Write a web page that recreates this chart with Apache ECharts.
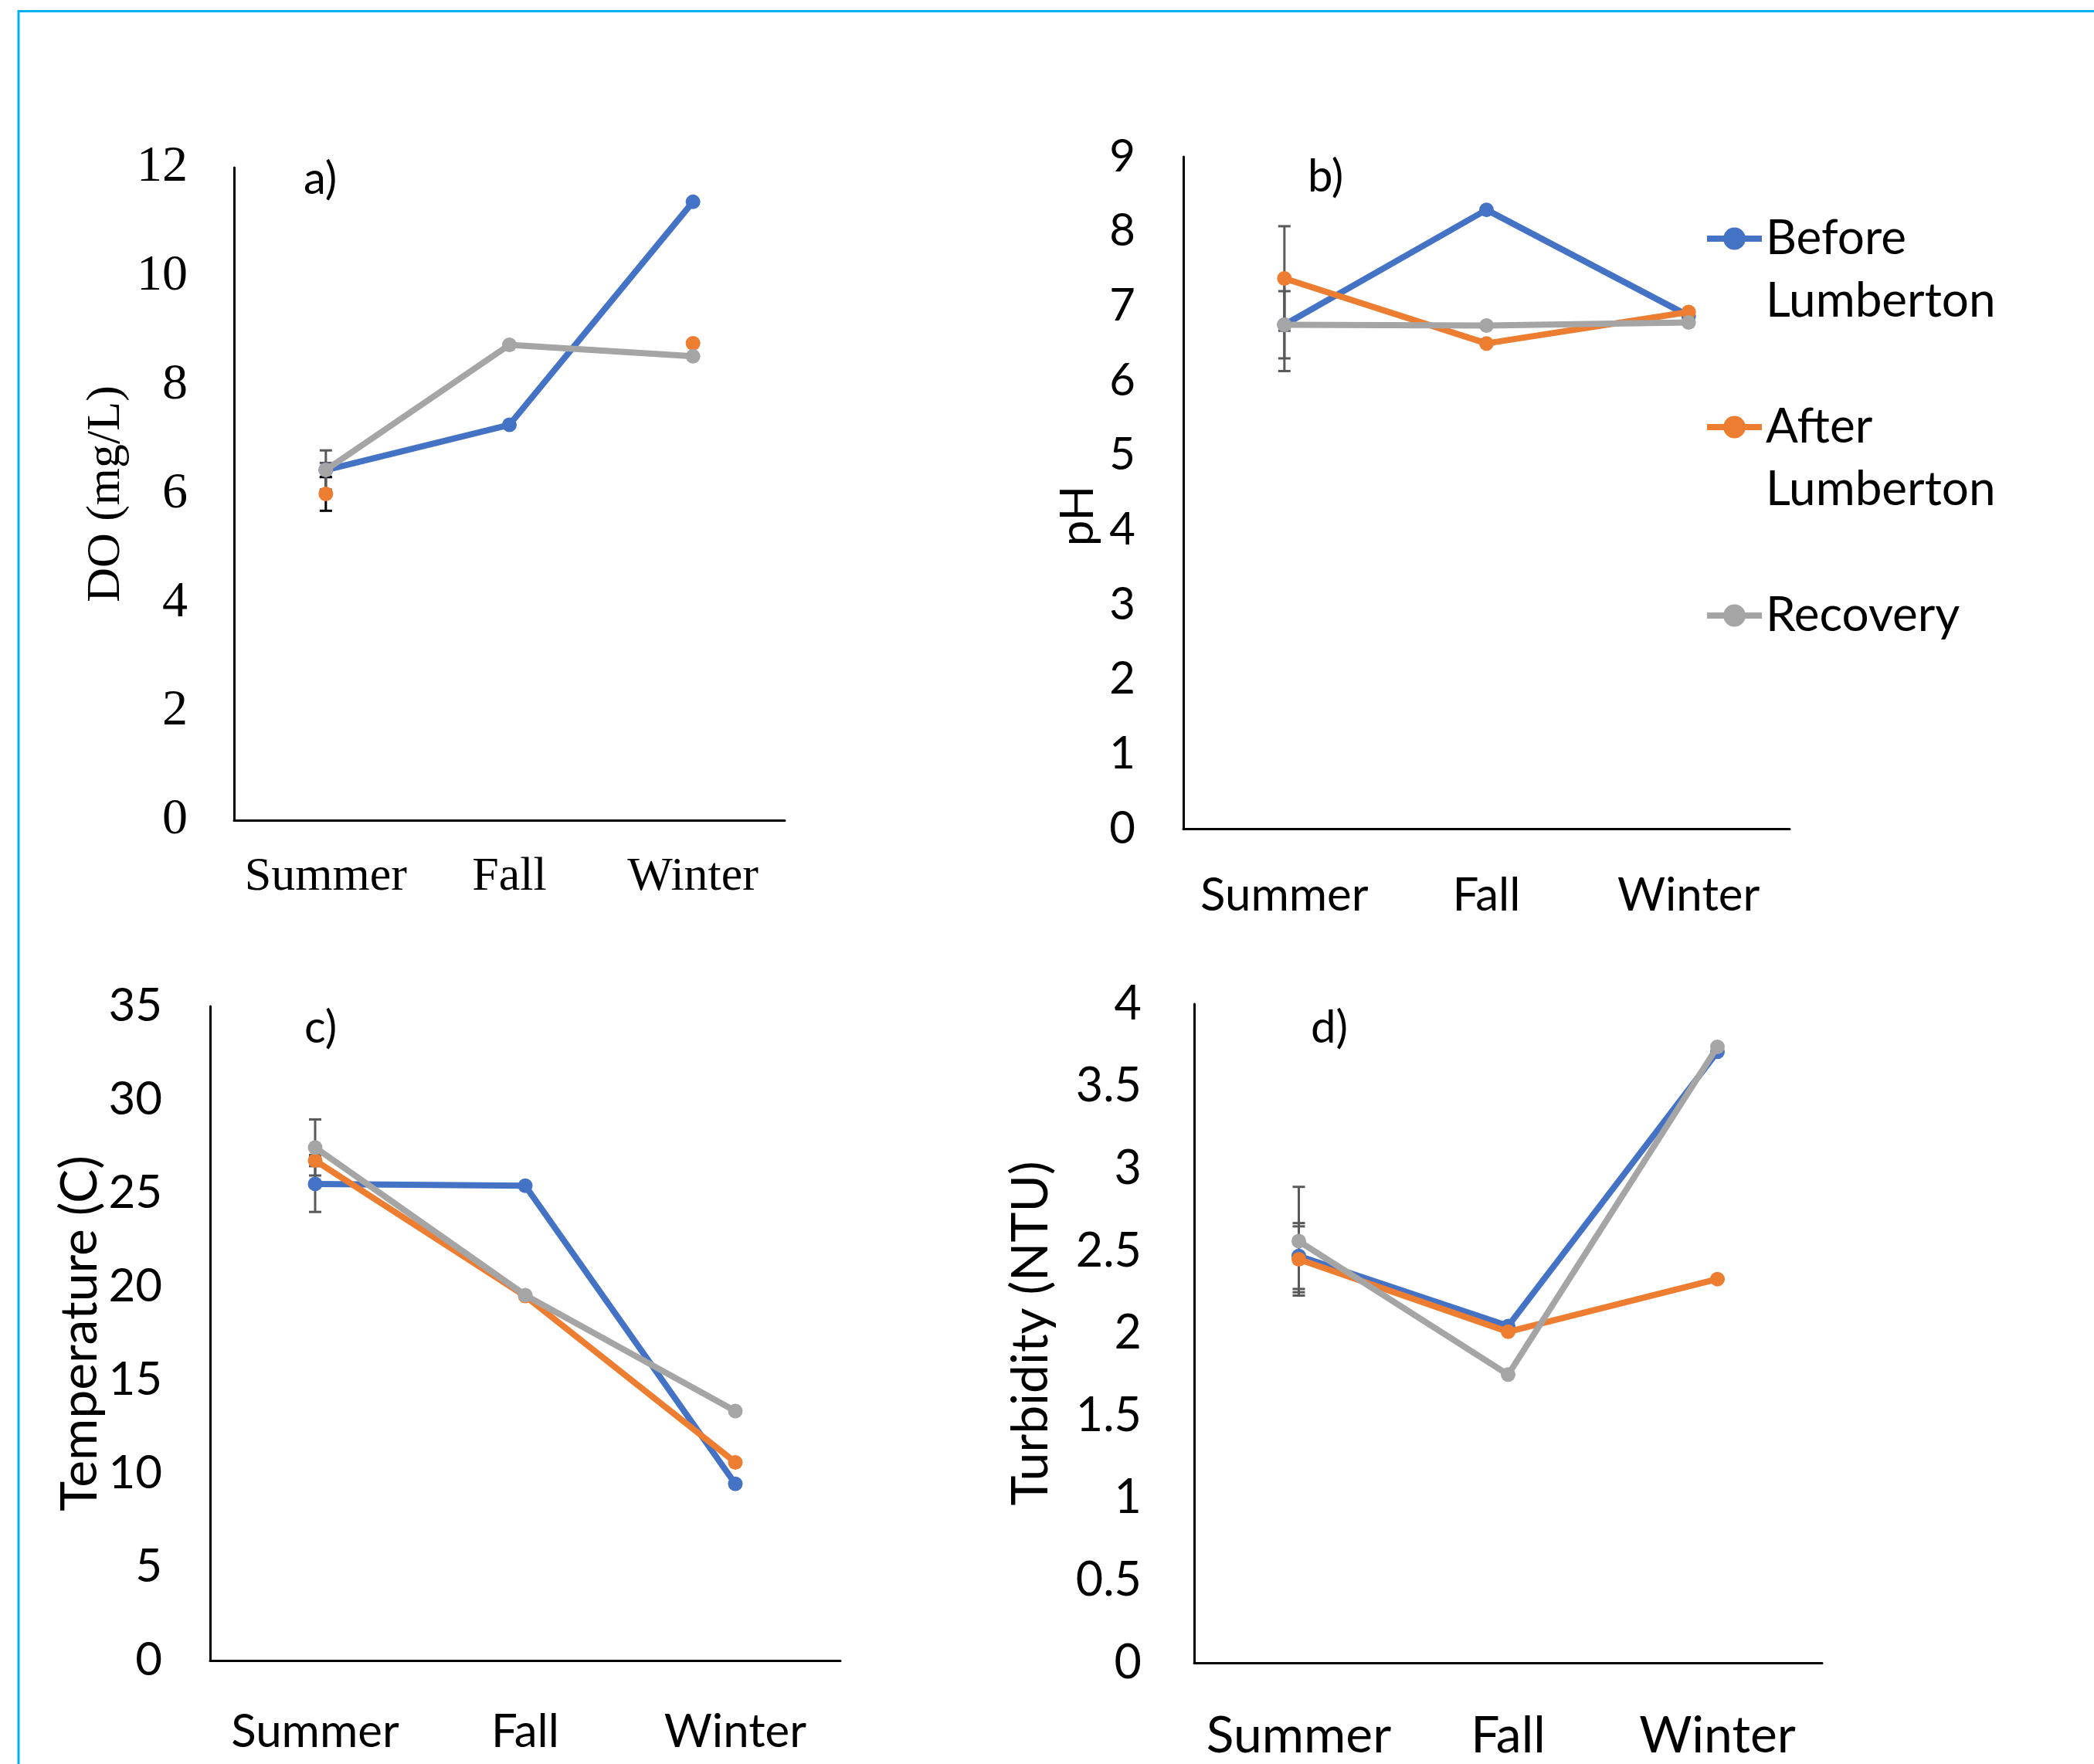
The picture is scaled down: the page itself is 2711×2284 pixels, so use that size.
<!DOCTYPE html>
<html>
<head>
<meta charset="utf-8">
<script src="https://cdn.jsdelivr.net/npm/echarts@6/dist/echarts.min.js"></script>
<style>
  html, body { margin: 0; padding: 0; background: #fff; }
  #chart { width: 2711px; height: 2284px; }
</style>
</head>
<body>
<div id="chart"></div>
<script>
// seasons on every x axis
const seasons = ['Summer', 'Fall', 'Winter'];
const seriesNames = ['Before Lumberton', 'After Lumberton', 'Recovery'];

// a) dissolved oxygen (mg/L)
const doBefore = [6.44, 7.27, 11.37];
const doAfter = [6.0, null, 8.77];
const doRecovery = [6.44, 8.74, 8.53];
const doErr = [0.13, 0.31, 0.36]; // summer only: before, after, recovery

// b) pH
const phBefore = [6.75, 8.29, 6.87];
const phAfter = [7.37, 6.50, 6.92];
const phRecovery = [6.75, 6.74, 6.78];
const phErr = [0.45, 0.70, 0.62];

// c) temperature (C)
const tempBefore = [25.5, 25.4, 9.45];
const tempAfter = [26.75, 19.5, 10.6];
const tempRecovery = [27.45, 19.55, 13.35];
const tempErr = [1.5, 0.3, 1.5];

// d) turbidity (NTU)
const turbBefore = [2.47, 2.045, 3.71];
const turbAfter = [2.45, 2.01, 2.33];
const turbRecovery = [2.56, 1.75, 3.74];
const turbErr = [0.2, 0.2, 0.33];

const colors = ['#4472C4', '#ED7D31', '#A5A5A5'];
const SANS = 'Lato';
const SERIF = 'Liberation Serif';

const panels = [
  { label: 'a)', name: 'DO (mg/L)', font: SERIF, max: 12, interval: 2,
    data: [doBefore, doAfter, doRecovery], err: doErr, errColors: ['#595959', '#000', '#595959'],
    grid: { left: 303, top: 217, width: 713, height: 845 },
    tickSize: 66, catSize: 62, nameSize: 62, yMargin: 60, xMargin: 43, nameGap: 134,
    namePad: 0, title: [393, 203] },
  { label: 'b)', name: 'pH', font: SANS, max: 9, interval: 1,
    data: [phBefore, phAfter, phRecovery], err: phErr, errColors: ['#595959', '#595959', '#595959'],
    grid: { left: 1532, top: 203, width: 785, height: 870 },
    tickSize: 58, catSize: 60, nameSize: 60, yMargin: 62, xMargin: 57, nameGap: 106,
    namePad: 60, title: [1693, 200] },
  { label: 'c)', name: 'Temperature (C)', font: SANS, max: 35, interval: 5,
    data: [tempBefore, tempAfter, tempRecovery], err: tempErr, errColors: ['#595959', '#595959', '#595959'],
    grid: { left: 272, top: 1303, width: 816, height: 847 },
    tickSize: 60, catSize: 60, nameSize: 66, yMargin: 62, xMargin: 63, nameGap: 135,
    namePad: 0, title: [394, 1302] },
  { label: 'd)', name: 'Turbidity (NTU)', font: SANS, max: 4, interval: 0.5,
    data: [turbBefore, turbAfter, turbRecovery], err: turbErr, errColors: ['#595959', '#595959', '#595959'],
    grid: { left: 1546, top: 1300, width: 813, height: 853 },
    tickSize: 61, catSize: 66, nameSize: 66, yMargin: 68, xMargin: 62, nameGap: 178,
    namePad: 0, title: [1697, 1302] }
];

function errorBars(color) {
  return function (params, api) {
    const i = api.value(0), v = api.value(1), e = api.value(2);
    const hi = api.coord([i, v + e]);
    const lo = api.coord([i, v - e]);
    const cap = 8;
    const style = { stroke: color, lineWidth: 3 };
    return {
      type: 'group',
      children: [
        { type: 'line', shape: { x1: hi[0], y1: hi[1], x2: lo[0], y2: lo[1] }, style },
        { type: 'line', shape: { x1: hi[0] - cap, y1: hi[1], x2: hi[0] + cap, y2: hi[1] }, style },
        { type: 'line', shape: { x1: lo[0] - cap, y1: lo[1], x2: lo[0] + cap, y2: lo[1] }, style }
      ]
    };
  };
}

const grid = [], xAxis = [], yAxis = [], series = [], title = [];

panels.forEach((p, k) => {
  grid.push(Object.assign({ containLabel: false }, p.grid));
  title.push({
    text: p.label, left: p.title[0], top: p.title[1], padding: 0,
    textStyle: { fontFamily: SANS, fontSize: 58, fontWeight: 'normal', color: '#000' }
  });
  xAxis.push({
    type: 'category', gridIndex: k, data: seasons, boundaryGap: true,
    axisLine: { lineStyle: { color: '#000', width: 3 } },
    axisTick: { show: false },
    axisLabel: { color: '#000', fontFamily: p.font, fontSize: p.catSize, margin: p.xMargin, interval: 0 }
  });
  yAxis.push({
    type: 'value', gridIndex: k, min: 0, max: p.max, interval: p.interval,
    name: p.name, nameLocation: 'middle', nameGap: p.nameGap, nameRotate: 90,
    nameTextStyle: { color: '#000', fontFamily: p.font, fontSize: p.nameSize, padding: [0, p.namePad, 0, 0] },
    axisLine: { show: true, lineStyle: { color: '#000', width: 3 } },
    axisTick: { show: false },
    splitLine: { show: false },
    axisLabel: { color: '#000', fontFamily: p.font, fontSize: p.tickSize, margin: p.yMargin }
  });
  p.data.forEach((vals, s) => {
    series.push({
      type: 'custom', xAxisIndex: k, yAxisIndex: k, z: 1, silent: true,
      renderItem: errorBars(p.errColors[s]),
      data: [[0, vals[0], p.err[s]]]
    });
  });
  p.data.forEach((vals, s) => {
    series.push({
      type: 'line', name: seriesNames[s], xAxisIndex: k, yAxisIndex: k, z: 3 + s,
      data: vals, connectNulls: false, symbol: 'circle', symbolSize: 19, showAllSymbol: true,
      lineStyle: { color: colors[s], width: 8 },
      itemStyle: { color: colors[s] },
      animation: false
    });
  });
});

// three legend entries, stacked to the right of panel b;
// two-line names get a blank first line so the icon sits beside the first word
const legendCenter = [309, 553, 797];
const lh = 81;
const legend = seriesNames.map((n, s) => {
  const twoLines = n !== 'Recovery';
  return {
    data: [n],
    left: 2206, top: legendCenter[s] - (twoLines ? 1.5 * lh : 0.5 * lh),
    padding: 0, itemWidth: 71, itemHeight: 36, itemGap: 0,
    lineStyle: { width: 8 },
    formatter: name => (twoLines ? ' \n' + name.replace(' ', '\n') : name),
    textStyle: { color: '#000', fontFamily: SANS, fontSize: 62, lineHeight: lh },
    selectedMode: false
  };
});

const chart = echarts.init(document.getElementById('chart'), null, { renderer: 'canvas' });
chart.setOption({
  backgroundColor: '#fff',
  animation: false,
  color: colors,
  title, grid, xAxis, yAxis, series, legend,
  graphic: [{
    type: 'rect', shape: { x: 24, y: 14.5, width: 3000, height: 3000 },
    style: { fill: null, stroke: '#00B0F0', lineWidth: 3 }, silent: true
  }]
});
</script>
</body>
</html>
